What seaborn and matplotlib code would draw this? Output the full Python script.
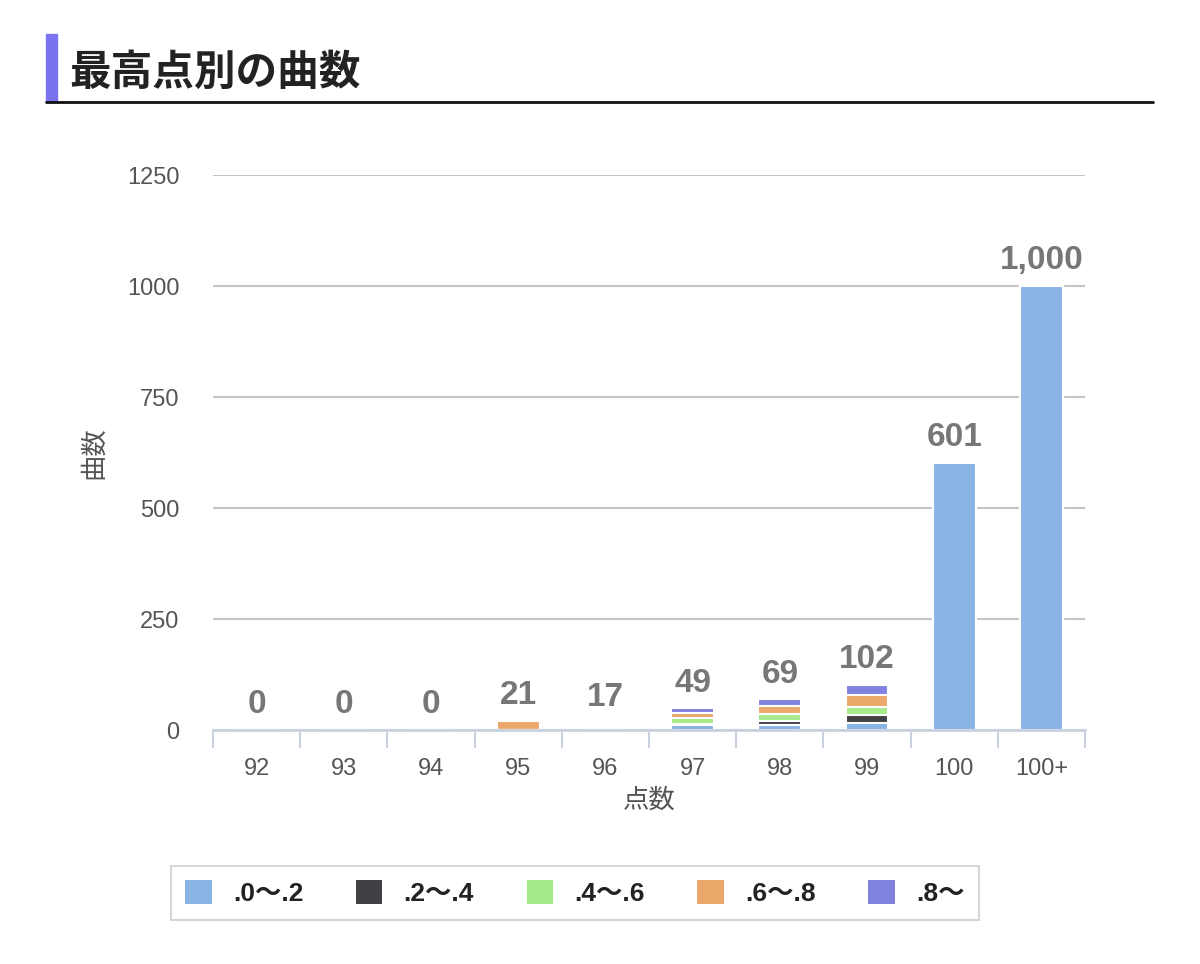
import pandas as pd
import seaborn as sns
import matplotlib.pyplot as plt
from matplotlib.patches import Patch, Rectangle
from matplotlib.lines import Line2D

# data
scores = ['92', '93', '94', '95', '96', '97', '98', '99', '100', '100+']
totals = [0, 0, 0, 21, 17, 49, 69, 102, 601, 1000]
bands = ['.0〜.2', '.2〜.4', '.4〜.6', '.6〜.8', '.8〜']
seg_00 = [0, 0, 0, 0, 0, 11, 12, 16, 601, 1000]
seg_02 = [0, 0, 0, 0, 0, 3, 9, 18, 0, 0]
seg_04 = [0, 0, 0, 0, 0, 13, 16, 18, 0, 0]
seg_06 = [0, 0, 0, 21, 0, 12, 18, 26, 0, 0]
seg_08 = [0, 0, 0, 0, 0, 10, 14, 24, 0, 0]
colors = ['#8ab4e6', '#404045', '#a6eb8a', '#eca86a', '#8182e0']

df = pd.DataFrame({'score': scores, bands[0]: seg_00, bands[1]: seg_02,
                   bands[2]: seg_04, bands[3]: seg_06, bands[4]: seg_08})

sns.set_theme(style='white')
plt.rcParams['font.family'] = ['Liberation Sans', 'Noto Sans CJK JP', 'DejaVu Sans']

fig = plt.figure(figsize=(12, 9.64), dpi=100)
ax = fig.add_axes([0.1775, 0.2427, 0.7267, 0.5757])

# stacked bars: draw cumulative sums from the top down
cum = df[bands].cumsum(axis=1)
for i in range(len(bands) - 1, -1, -1):
    d = pd.DataFrame({'score': scores, 'v': cum[bands[i]]})
    sns.barplot(data=d, x='score', y='v', color=colors[i], width=0.49,
                edgecolor='white', linewidth=1.5, saturation=1, ax=ax, zorder=3)

for i, t in enumerate(totals):
    ax.annotate(f'{t:,}', (i, t), xytext=(0, 7), textcoords='offset points',
                ha='center', va='bottom', fontsize=24, fontweight='bold',
                color='#777777', zorder=5)

ax.set_ylim(0, 1250)
ax.set_xlim(-0.5, 9.5)
ax.set_yticks([0, 250, 500, 750, 1000, 1250])
ax.yaxis.grid(True, color='#c4c4c4', linewidth=1.5, zorder=0)
ax.xaxis.grid(False)
for s in ['left', 'right', 'top']:
    ax.spines[s].set_visible(False)
ax.spines['bottom'].set_color('#c9d1e1')
ax.spines['bottom'].set_linewidth(2)
ax.spines['bottom'].set_zorder(4)

ax.tick_params(axis='y', length=0, pad=24, labelsize=17, labelcolor='#555555')
ax.tick_params(axis='x', which='major', length=0, pad=20, labelsize=17, labelcolor='#555555')
ax.set_xticks([x - 0.5 for x in range(11)], minor=True)
ax.tick_params(axis='x', which='minor', length=13, width=1.5, color='#c9d1e1', bottom=True)

ax.set_xlabel('点数', fontsize=19, color='#555555', labelpad=6)
ax.set_ylabel('曲数', fontsize=19, color='#555555', labelpad=15)

# title block
fig.text(0.058, 1 - 73 / 964, '最高点別の曲数', fontsize=30, fontweight='bold',
         color='#222222', va='center', ha='left', family=['Noto Sans CJK JP', 'DejaVu Sans'])
fig.patches.append(Rectangle((46 / 1200, (964 - 102) / 964), 11 / 1200, 68 / 964,
                             transform=fig.transFigure, color='#7b72f0'))
fig.lines.append(Line2D([46 / 1200, 1153 / 1200], [(964 - 102) / 964] * 2,
                        transform=fig.transFigure, color='#111111', linewidth=2))

handles = [Patch(facecolor=c, edgecolor='none') for c in colors]
leg = fig.legend(handles, bands, loc='center', bbox_to_anchor=(0.479, 0.0737), ncol=5,
                 frameon=True, fancybox=False, edgecolor='#cccccc',
                 prop={'size': 19, 'weight': 'bold'}, handlelength=1.0, handleheight=1.0,
                 columnspacing=2.0, handletextpad=0.8, borderpad=0.55)
leg.get_frame().set_linewidth(1.5)
for t in leg.get_texts():
    t.set_color('#222222')

fig.savefig('out.png', dpi=100)
